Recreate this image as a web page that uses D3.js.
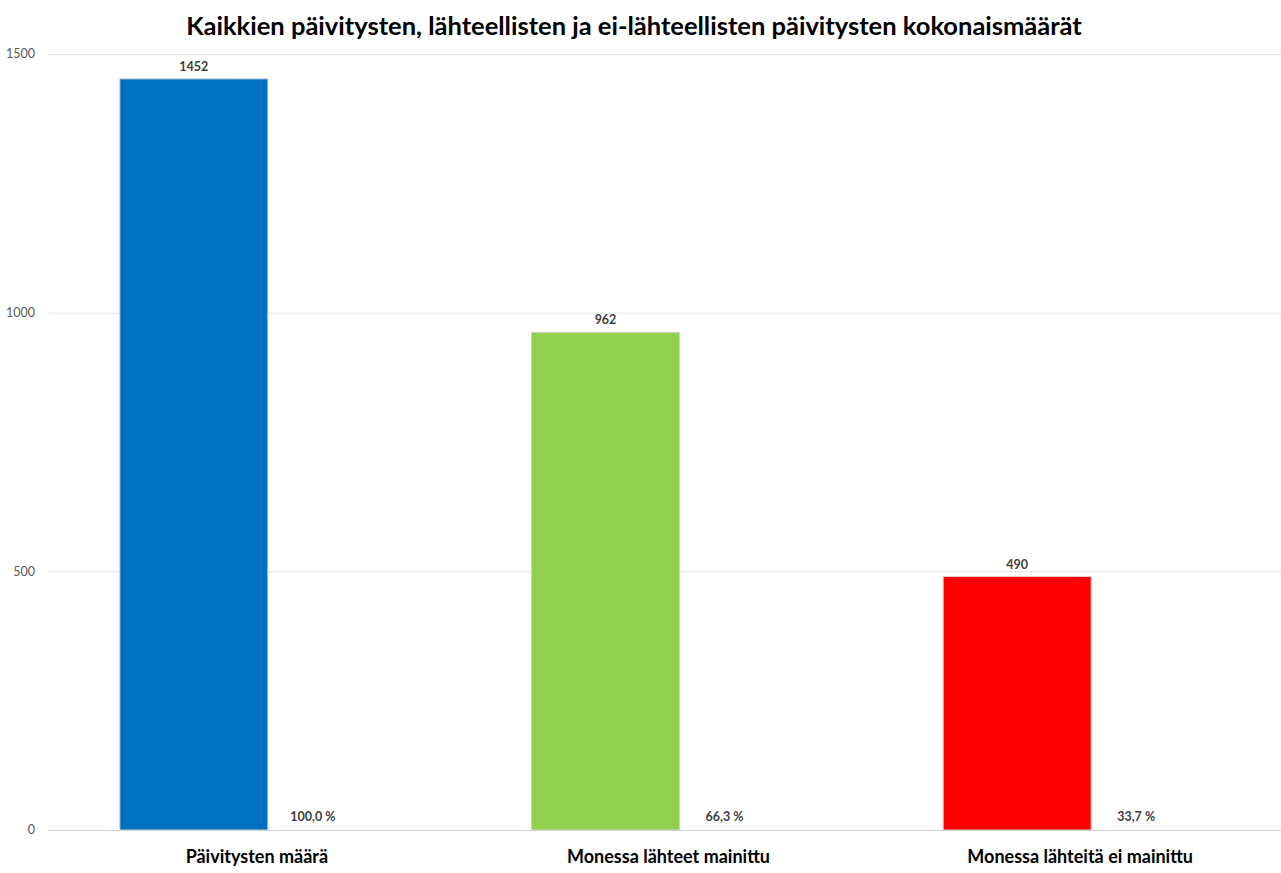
<!DOCTYPE html>
<html>
<head>
<meta charset="utf-8">
<script src="https://cdnjs.cloudflare.com/ajax/libs/d3/7.8.5/d3.min.js"></script>
<style>
  body { margin: 0; background: #fff; }
  text { font-family: Lato, "Open Sans", sans-serif; }
</style>
</head>
<body>
<div id="chart"></div>
<script>
var categories = ["Päivitysten määrä", "Monessa lähteet mainittu", "Monessa lähteitä ei mainittu"];
var counts = [1452, 962, 490];
var percents = ["100,0 %", "66,3 %", "33,7 %"];
var colors = ["#0070C0", "#92D050", "#FF0000"];
var yTicks = [0, 500, 1000, 1500];

var width = 1281, height = 873;
var margin = { left: 48, right: 0, top: 54, bottom: 43 };

var svg = d3.select("#chart").append("svg")
    .attr("width", width)
    .attr("height", height);

// title
svg.append("text")
    .attr("x", 634)
    .attr("y", 35)
    .attr("text-anchor", "middle")
    .style("font-size", "25.5px")
    .style("font-weight", "bold")
    .attr("fill", "#000")
    .text("Kaikkien päivitysten, lähteellisten ja ei-lähteellisten päivitysten kokonaismäärät");

var y = d3.scaleLinear().domain([0, 1500]).range([830, 54]);
var x = d3.scaleBand().domain(categories).range([62, 1297]).paddingInner(0).paddingOuter(0);
var barW = 148;

// gridlines
svg.append("g").selectAll("line")
    .data(yTicks)
    .enter().append("line")
    .attr("x1", margin.left)
    .attr("x2", width)
    .attr("y1", function(d) { return y(d) + 0.5; })
    .attr("y2", function(d) { return y(d) + 0.5; })
    .attr("stroke", function(d) { return d === 0 ? "#cfcfcf" : "#e3e3e3"; })
    .attr("stroke-width", 1);

// y tick labels
svg.append("g").selectAll("text")
    .data(yTicks)
    .enter().append("text")
    .attr("x", 35)
    .attr("y", function(d) { return y(d); })
    .attr("dy", "0.35em")
    .attr("text-anchor", "end")
    .style("font-size", "12.5px")
    .attr("fill", "#595959")
    .text(function(d) { return d; });

function center(c) { return x(c) + x.bandwidth() / 2; }

// bars
svg.append("g").selectAll("rect")
    .data(categories)
    .enter().append("rect")
    .attr("x", function(d) { return center(d) - barW; })
    .attr("y", function(d, i) { return y(counts[i]); })
    .attr("width", barW)
    .attr("height", function(d, i) { return y(0) - y(counts[i]); })
    .attr("fill", function(d, i) { return colors[i]; })
    .attr("stroke", "#d0d0d0")
    .attr("stroke-width", 1);

// value labels
svg.append("g").selectAll("text")
    .data(categories)
    .enter().append("text")
    .attr("x", function(d) { return center(d) - barW / 2; })
    .attr("y", function(d, i) { return y(counts[i]) - 8; })
    .attr("text-anchor", "middle")
    .style("font-size", "12.5px")
    .style("font-weight", "bold")
    .attr("fill", "#404040")
    .text(function(d, i) { return counts[i]; });

// percent labels
svg.append("g").selectAll("text")
    .data(categories)
    .enter().append("text")
    .attr("x", function(d) { return center(d) + 45; })
    .attr("y", 821)
    .attr("text-anchor", "middle")
    .style("font-size", "12.5px")
    .style("font-weight", "bold")
    .attr("fill", "#404040")
    .text(function(d, i) { return percents[i]; });

// category labels
svg.append("g").selectAll("text")
    .data(categories)
    .enter().append("text")
    .attr("x", function(d) { return center(d) - 11; })
    .attr("y", 863)
    .attr("text-anchor", "middle")
    .style("font-size", "18px")
    .style("font-weight", "bold")
    .attr("fill", "#000")
    .text(function(d) { return d; });
</script>
</body>
</html>
